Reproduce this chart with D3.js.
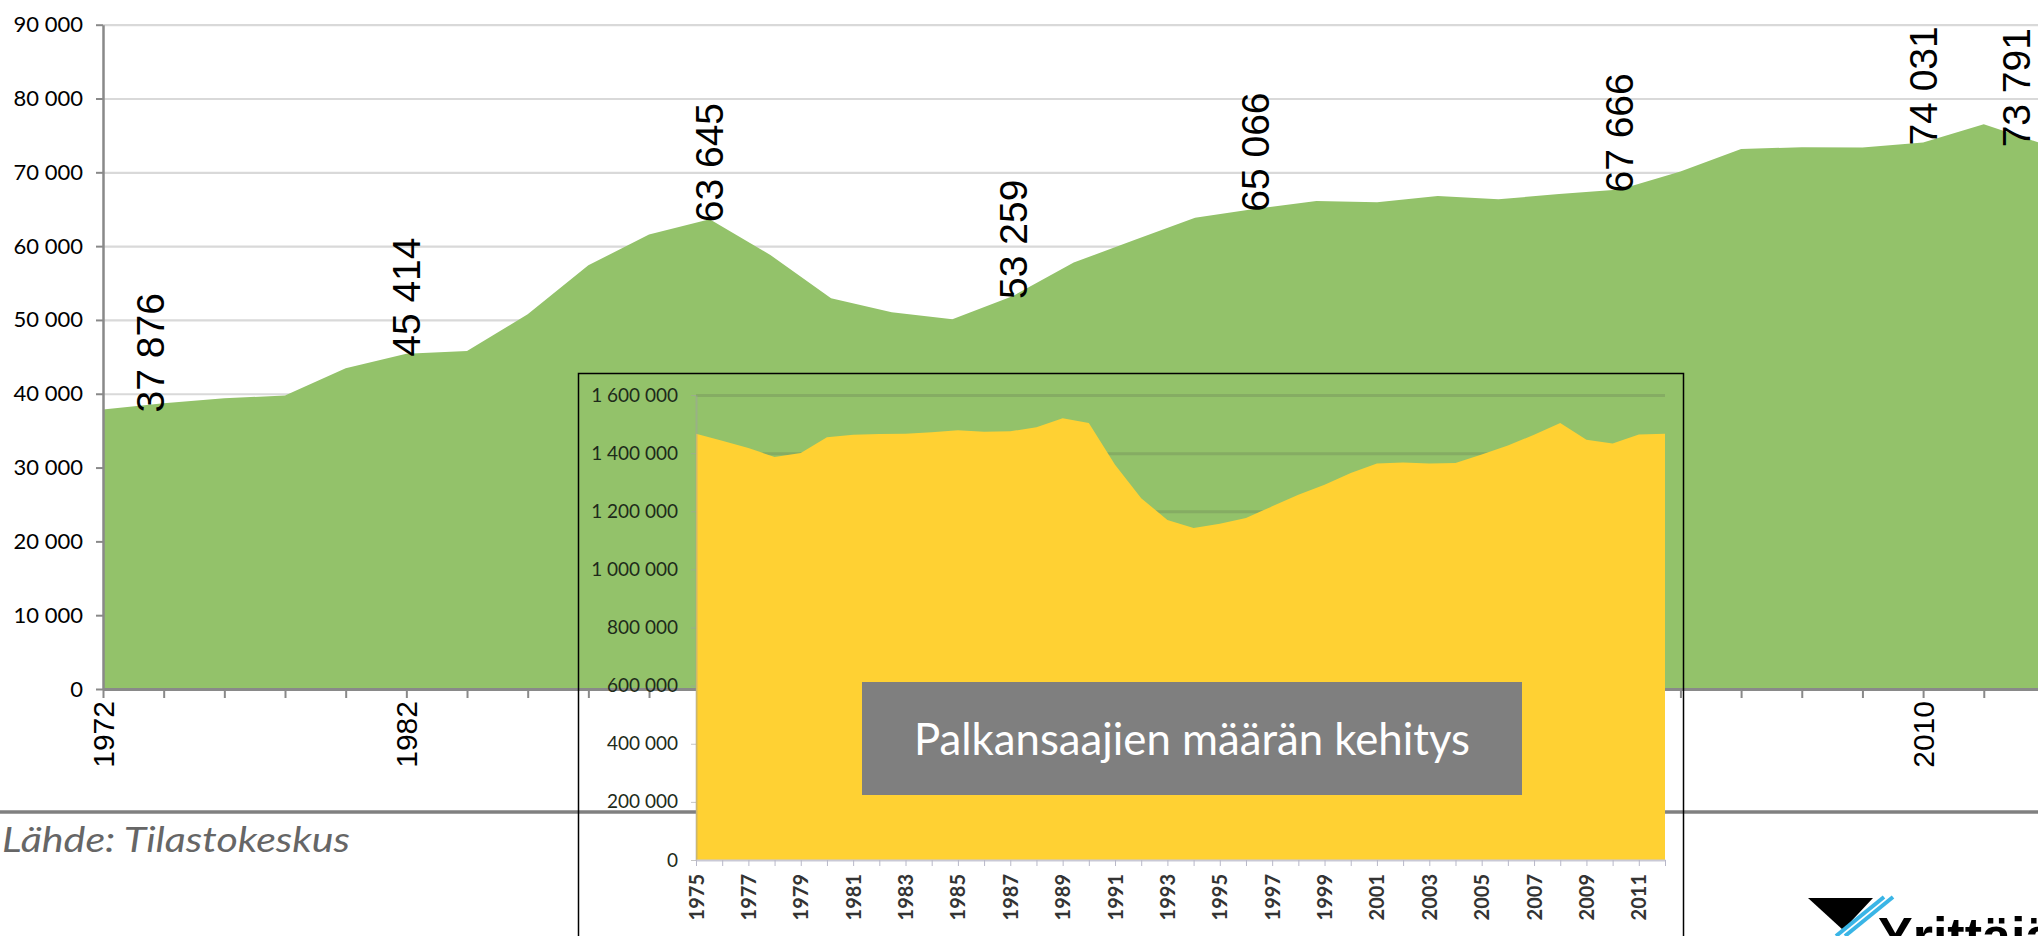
<!DOCTYPE html>
<html>
<head>
<meta charset="utf-8">
<script src="https://cdn.jsdelivr.net/npm/d3@7"></script>
<style>
  body { margin: 0; background: #fff; }
  svg { display: block; }
</style>
</head>
<body>
<svg id="chart" width="2038" height="936"></svg>
<script>
// main chart: categories (2-year steps until 1988, then yearly)
var years = [1972, 1974, 1976, 1978, 1980, 1982, 1984, 1986, 1988, 1989, 1990, 1991, 1992, 1993,
  1994, 1995, 1996, 1997, 1998, 1999, 2000, 2001, 2002, 2003, 2004, 2005, 2006, 2007, 2008,
  2009, 2010, 2011, 2012];
var values = [37876, 38710, 39380, 39780, 43450, 45414, 45800, 50770, 57400, 61580, 63645, 58810,
  52940, 51040, 50090, 53259, 57770, 60840, 63860, 65066, 66120, 65940, 66800, 66350, 67050,
  67666, 70100, 73170, 73400, 73350, 74031, 76510, 73791];
var labelYears = [1972, 1982, 1990, 1995, 1999, 2005, 2010, 2012];
var yTicks = [0, 10000, 20000, 30000, 40000, 50000, 60000, 70000, 80000, 90000];
var xTickLabels = [1972, 1982, 1990, 1995, 2000, 2005, 2010];

// inset chart: palkansaajat
var insetYears = [1975, 1976, 1977, 1978, 1979, 1980, 1981, 1982, 1983, 1984, 1985, 1986, 1987,
  1988, 1989, 1990, 1991, 1992, 1993, 1994, 1995, 1996, 1997, 1998, 1999, 2000, 2001, 2002,
  2003, 2004, 2005, 2006, 2007, 2008, 2009, 2010, 2011, 2012];
var insetValues = [1466800, 1442700, 1417600, 1386700, 1400500, 1454400, 1463400, 1465800,
  1466800, 1471600, 1478500, 1473700, 1475100, 1488800, 1519800, 1503600, 1360000, 1245000,
  1170000, 1142000, 1157000, 1177000, 1217000, 1257000, 1291000, 1332000, 1364000, 1368000,
  1364000, 1366000, 1395000, 1426000, 1463000, 1504000, 1446000, 1433000, 1464000, 1467000];
var insetYTicks = [0, 200000, 400000, 600000, 800000, 1000000, 1200000, 1400000, 1600000];
var insetXTickLabels = [1975, 1977, 1979, 1981, 1983, 1985, 1987, 1989, 1991, 1993, 1995, 1997,
  1999, 2001, 2003, 2005, 2007, 2009, 2011];

var fi = d3.formatLocale({decimal: ",", thousands: "\u00a0", grouping: [3], currency: ["", " €"]});
var fmt = fi.format(",d");

var svg = d3.select("#chart");
var W = 2038;

var mainData = years.map(function(yr, i) { return {year: yr, value: values[i]}; });

var x = d3.scalePoint().domain(years).range([103, 103 + 60.67 * (years.length - 1)]);
var y = d3.scaleLinear().domain([0, 90000]).range([689, 24.7]);

// gridlines
svg.append("g")
  .attr("transform", "translate(103,0)")
  .call(d3.axisLeft(y).tickValues(yTicks.slice(1)).tickSize(-(W - 103)).tickFormat(""))
  .call(function(g) { g.select(".domain").remove(); })
  .selectAll("line").attr("stroke", "#d9d9d9").attr("stroke-width", 2.2);

svg.append("path")
  .datum(mainData)
  .attr("fill", "#93c26a")
  .attr("d", d3.area()
    .x(function(d) { return x(d.year); })
    .y0(y(0))
    .y1(function(d) { return y(d.value); }));

// y axis
var ya = svg.append("g")
  .attr("transform", "translate(103,0)")
  .call(d3.axisLeft(y).tickValues(yTicks).tickSize(7).tickSizeOuter(0).tickPadding(13).tickFormat(fmt));
ya.select(".domain").attr("stroke", "#898989").attr("stroke-width", 2.5);
ya.selectAll("line").attr("stroke", "#898989").attr("stroke-width", 2);
ya.selectAll("text").attr("font-family", "Lato, sans-serif").attr("font-size", 22).attr("fill", "#000");

// x axis
var xa = svg.append("g")
  .attr("transform", "translate(0," + y(0) + ")")
  .call(d3.axisBottom(x).tickSize(9).tickSizeOuter(0)
    .tickFormat(function(d) { return xTickLabels.indexOf(d) >= 0 ? d : ""; }));
xa.select(".domain").attr("stroke", "#898989").attr("stroke-width", 3);
xa.selectAll("line").attr("stroke", "#898989").attr("stroke-width", 2);
xa.selectAll("text")
  .attr("font-family", "Liberation Sans, Arial, sans-serif").attr("font-size", 30).attr("fill", "#000")
  .attr("text-anchor", "end")
  .attr("transform", "translate(0,12) rotate(-90)")
  .attr("x", 0).attr("y", 0).attr("dy", "0.35em");

// data labels
svg.append("g").selectAll("text")
  .data(mainData.filter(function(d) { return labelYears.indexOf(d.year) >= 0; }))
  .join("text")
  .attr("transform", function(d) {
    var px = Math.max(150, Math.min(x(d.year), 2016));
    return "translate(" + px + "," + (y(d.value) + 3) + ") rotate(-90)";
  })
  .attr("dy", "0.35em")
  .attr("font-family", "Liberation Sans, Arial, sans-serif")
  .attr("font-size", 39)
  .attr("fill", "#000")
  .text(function(d) { return fmt(d.value); });

// slide separator
svg.append("line")
  .attr("x1", 0).attr("x2", W).attr("y1", 812).attr("y2", 812)
  .attr("stroke", "#808080").attr("stroke-width", 3.5);

// inset (transparent background picture)
var insetData = insetYears.map(function(yr, i) { return {year: yr, value: insetValues[i]}; });
var xi = d3.scalePoint().domain(insetYears).range([696, 1665]);
var yi = d3.scaleLinear().domain([0, 1600000]).range([860, 395]);

svg.append("g")
  .attr("transform", "translate(696,0)")
  .call(d3.axisLeft(yi).tickValues(insetYTicks.slice(1)).tickSize(-(1665 - 696)).tickFormat(""))
  .call(function(g) { g.select(".domain").remove(); })
  .selectAll("line").attr("stroke", "rgba(70,70,70,0.18)").attr("stroke-width", 3);

svg.append("path")
  .datum(insetData)
  .attr("fill", "#ffd133")
  .attr("d", d3.area()
    .x(function(d) { return xi(d.year); })
    .y0(yi(0))
    .y1(function(d) { return yi(d.value); }));

var yia = svg.append("g")
  .attr("transform", "translate(696,0)")
  .call(d3.axisLeft(yi).tickValues(insetYTicks).tickSize(5).tickSizeOuter(0).tickPadding(13).tickFormat(fmt));
yia.select(".domain").attr("stroke", "rgba(160,160,160,0.5)").attr("stroke-width", 2);
yia.selectAll("line").attr("stroke", "rgba(160,160,160,0.6)");
yia.selectAll("text").attr("font-family", "Lato, sans-serif").attr("font-size", 19).attr("fill", "#1e2a1a");

var xia = svg.append("g")
  .attr("transform", "translate(0," + yi(0) + ")")
  .call(d3.axisBottom(xi).tickSize(6).tickSizeOuter(0)
    .tickFormat(function(d) { return insetXTickLabels.indexOf(d) >= 0 ? d : ""; }));
xia.select(".domain").attr("stroke", "#c9c9d6").attr("stroke-width", 2);
xia.selectAll("line").attr("stroke", "#b8b8c8");
xia.selectAll("text")
  .attr("font-family", "Lato, sans-serif").attr("font-size", 20).attr("font-weight", "bold").attr("fill", "#333")
  .attr("text-anchor", "end")
  .attr("transform", "translate(0,14) rotate(-90)")
  .attr("x", 0).attr("y", 0).attr("dy", "0.35em");

svg.append("rect")
  .attr("x", 578.5).attr("y", 373.5).attr("width", 1105).attr("height", 600)
  .attr("fill", "none").attr("stroke", "#000").attr("stroke-width", 1.5);

// title box
svg.append("rect")
  .attr("x", 862).attr("y", 682).attr("width", 660).attr("height", 113)
  .attr("fill", "#7f7f7f");
svg.append("text")
  .attr("x", 1192).attr("y", 755)
  .attr("text-anchor", "middle")
  .attr("font-family", "Lato, sans-serif").attr("font-size", 44).attr("fill", "#fff")
  .attr("textLength", 556).attr("lengthAdjust", "spacingAndGlyphs")
  .text("Palkansaajien määrän kehitys");

// source
svg.append("text")
  .attr("x", 2).attr("y", 852)
  .attr("font-family", "Lato, sans-serif").attr("font-size", 34).attr("font-style", "italic")
  .attr("fill", "#666")
  .attr("textLength", 348).attr("lengthAdjust", "spacingAndGlyphs")
  .text("Lähde: Tilastokeskus");

// logo (cut at the bottom edge)
var logo = svg.append("g");
logo.append("polygon").attr("points", "1808,898 1873,898 1843,930").attr("fill", "#000");
logo.append("line").attr("x1", 1884).attr("y1", 897).attr("x2", 1836).attr("y2", 936)
  .attr("stroke", "#3ab5e6").attr("stroke-width", 4);
logo.append("line").attr("x1", 1893).attr("y1", 897).attr("x2", 1845).attr("y2", 936)
  .attr("stroke", "#3ab5e6").attr("stroke-width", 4);
logo.append("text")
  .attr("x", 1878).attr("y", 954)
  .attr("font-family", "Liberation Sans, Arial, sans-serif").attr("font-weight", "bold")
  .attr("font-size", 52).attr("fill", "#000")
  .text("Yrittäjät");
</script>
</body>
</html>
